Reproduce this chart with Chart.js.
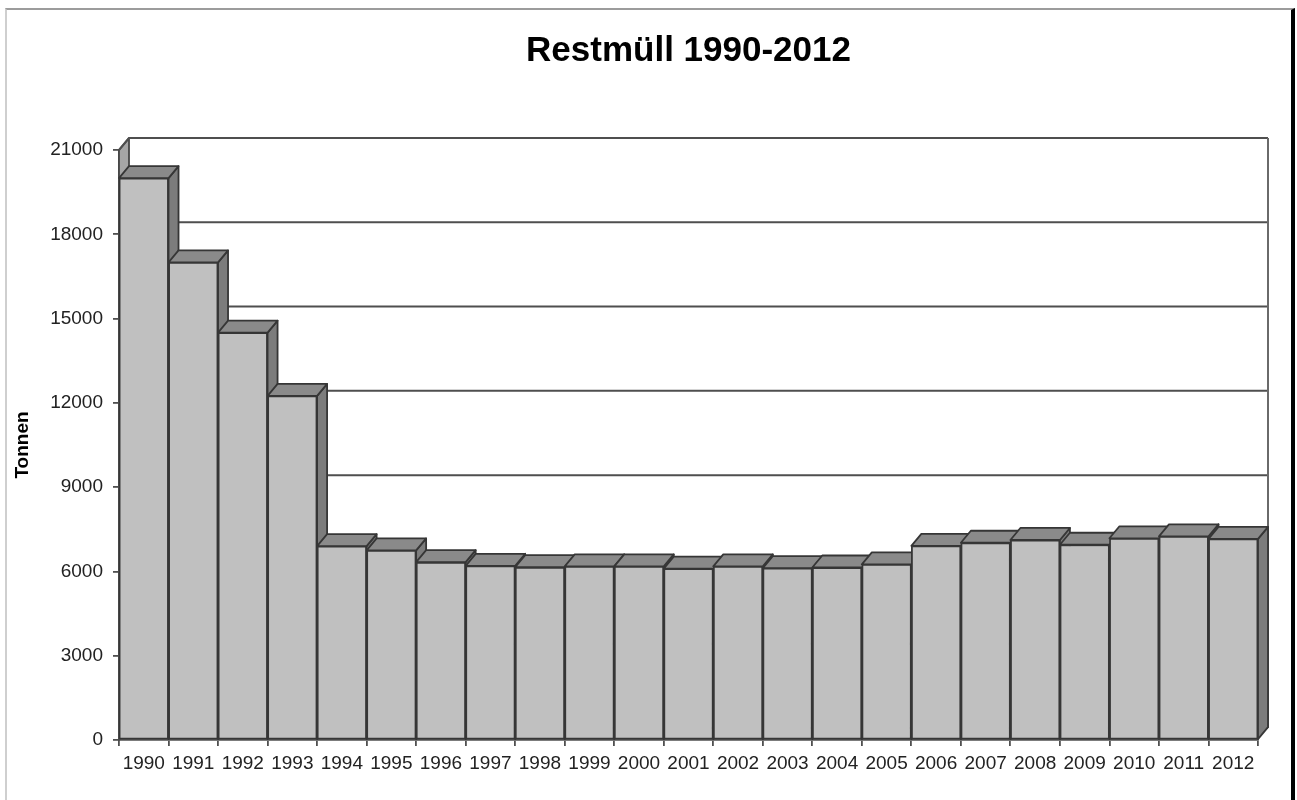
<!DOCTYPE html>
<html lang="de">
<head>
<meta charset="utf-8">
<title>Restmüll 1990-2012</title>
<script src="https://cdn.jsdelivr.net/npm/chart.js@4/dist/chart.umd.min.js"></script>
<style>
  html, body { margin: 0; padding: 0; background: #ffffff; }
  #wrap { position: relative; width: 1297px; height: 800px; overflow: hidden; }
  #c { position: absolute; left: 0; top: 0; }
  /* frame around the chart sheet */
  #frame {
    position: absolute; left: 5px; top: 8px; width: 1284px; height: 820px;
    border-left: 2px solid #cfcfcf; border-top: 2px solid #9c9c9c; border-right: 4px solid #000;
    pointer-events: none;
  }
</style>
</head>
<body>
<div id="wrap">
  <canvas id="c" width="1297" height="800"></canvas>
  <div id="frame"></div>
</div>
<script>
// Jahre (Kategorien)
const jahre = ['1990','1991','1992','1993','1994','1995','1996','1997','1998','1999','2000',
               '2001','2002','2003','2004','2005','2006','2007','2008','2009','2010','2011','2012'];
// Restmüll in Tonnen
const restmuell = [20000, 17000, 14500, 12250, 6900, 6750, 6330, 6200, 6150, 6180, 6180,
                   6100, 6180, 6120, 6140, 6250, 6910, 7020, 7120, 6950, 7180, 7250, 7160];
// Werte der Y-Achsenbeschriftung
const yTickWerte = [0, 3000, 6000, 9000, 12000, 15000, 18000, 21000];

const FONT = '"Liberation Sans", Arial, sans-serif';
const TIEFE_X = 10;   // depth offset of the 3D box, horizontal
const TIEFE_Y = 12;   // depth offset of the 3D box, vertical

function poly(ctx, pts, fill, stroke, lw) {
  ctx.beginPath();
  ctx.moveTo(pts[0][0], pts[0][1]);
  for (let i = 1; i < pts.length; i++) ctx.lineTo(pts[i][0], pts[i][1]);
  ctx.closePath();
  if (fill) { ctx.fillStyle = fill; ctx.fill(); }
  if (stroke) { ctx.strokeStyle = stroke; ctx.lineWidth = lw; ctx.stroke(); }
}

// Walls, grid lines on the back wall and the depth faces of the columns
const raum3d = {
  id: 'raum3d',
  beforeDatasetsDraw(chart) {
    const ctx = chart.ctx;
    const xs = chart.scales.x, ys = chart.scales.y;
    const L = xs.left, R = xs.right;
    const yMax = ys.getPixelForValue(ys.max), y0 = ys.getPixelForValue(0);
    ctx.save();
    ctx.lineJoin = 'round';
    // left side wall
    poly(ctx, [[L, y0], [L, yMax], [L + TIEFE_X, yMax - TIEFE_Y], [L + TIEFE_X, y0 - TIEFE_Y]],
         '#a6a6a6', '#474747', 1.8);
    // back wall grid lines with the short diagonals across the side wall
    ctx.strokeStyle = '#4f4f4f';
    ctx.lineWidth = 2;
    yTickWerte.forEach(v => {
      const py = ys.getPixelForValue(v);
      ctx.beginPath();
      ctx.moveTo(L, py);
      ctx.lineTo(L + TIEFE_X, py - TIEFE_Y);
      ctx.lineTo(R + TIEFE_X, py - TIEFE_Y);
      ctx.stroke();
    });
    // right edge of the back wall
    ctx.strokeStyle = '#6a6a6a';
    ctx.beginPath();
    ctx.moveTo(R + TIEFE_X, yMax - TIEFE_Y);
    ctx.lineTo(R + TIEFE_X, y0 - TIEFE_Y);
    ctx.stroke();

    const meta = chart.getDatasetMeta(0);
    // side faces first, then top faces, the front faces are drawn by the bar elements
    meta.data.forEach(bar => {
      const right = bar.x + bar.width / 2;
      poly(ctx, [[right, bar.y], [right + TIEFE_X, bar.y - TIEFE_Y],
                 [right + TIEFE_X, bar.base - TIEFE_Y], [right, bar.base]],
           '#7c7c7c', '#363636', 1.8);
    });
    meta.data.forEach(bar => {
      const left = bar.x - bar.width / 2, right = bar.x + bar.width / 2;
      poly(ctx, [[left, bar.y], [left + TIEFE_X, bar.y - TIEFE_Y],
                 [right + TIEFE_X, bar.y - TIEFE_Y], [right, bar.y]],
           '#8a8a8a', '#363636', 1.8);
    });
    ctx.restore();
  }
};

new Chart(document.getElementById('c'), {
  type: 'bar',
  data: {
    labels: jahre,
    datasets: [{
      label: 'Restmüll',
      data: restmuell,
      backgroundColor: '#c0c0c0',
      borderColor: '#363636',
      borderWidth: 1.8,
      borderSkipped: false,
      barPercentage: 1,
      categoryPercentage: 1
    }]
  },
  options: {
    responsive: false,
    animation: false,
    events: [],
    layout: { padding: { left: 0, right: 39, top: 0, bottom: 0 } },
    plugins: {
      legend: { display: false },
      tooltip: { enabled: false },
      title: {
        display: true,
        fullSize: false,   // centred over the plot box, not over the whole canvas
        text: 'Restmüll 1990-2012',
        color: '#000',
        font: { family: FONT, size: 35, weight: 'bold' },
        padding: { top: 30, bottom: 78 }
      }
    },
    scales: {
      x: {
        grid: { display: true, offset: true, drawOnChartArea: false, drawTicks: true,
                tickLength: 6, color: '#505050', lineWidth: 1.8 },
        border: { display: true, color: '#505050', width: 1.8 },
        ticks: { color: '#222', font: { family: FONT, size: 19 }, padding: 6,
                 maxRotation: 0, autoSkip: false },
        afterFit(scale) { scale.height = 60; }
      },
      y: {
        min: 0,
        max: 21000,
        afterBuildTicks(scale) { scale.ticks = yTickWerte.map(v => ({ value: v })); },
        grid: { display: true, drawOnChartArea: false, drawTicks: true,
                tickLength: 6, color: '#505050', lineWidth: 1.8 },
        border: { display: true, color: '#505050', width: 1.8 },
        ticks: {
          color: '#222', font: { family: FONT, size: 19 }, padding: 10,
          callback: v => String(v)
        },
        title: {
          display: true,
          text: 'Tonnen',
          color: '#000',
          font: { family: FONT, size: 19, weight: 'bold' },
          padding: { top: 11, bottom: 0 }
        },
        afterFit(scale) { scale.width = 119; }
      }
    }
  },
  plugins: [raum3d]
});
</script>
</body>
</html>
